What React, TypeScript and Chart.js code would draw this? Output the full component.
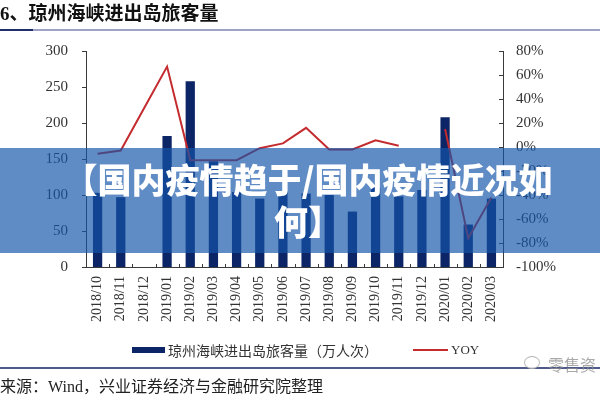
import React, { useEffect, useRef } from "react";
import { Chart, registerables } from "chart.js";

Chart.register(...registerables);

// 琼州海峡进出岛旅客量（万人次）与同比
const months = [
  "2018/10", "2018/11", "2018/12", "2019/01", "2019/02", "2019/03",
  "2019/04", "2019/05", "2019/06", "2019/07", "2019/08", "2019/09",
  "2019/10", "2019/11", "2019/12", "2020/01", "2020/02", "2020/03",
];
const passengers = [103, 97, null, 182, 258, 147, 104, 95, 105, 102, 100, 77, 110, 98, 107, 208, 59, 95];
const yoy = [-5.6, -3, 32, 67, -11, -11, -11, -1, 3, 16, -2, -2, 5.5, 1, null, 15, -76, -42];

const leftMin = 0;
const leftMax = 300;
const leftStep = 50;
const rightMin = -100;
const rightMax = 80;
const rightStep = 20;

const seriesNames = ["琼州海峡进出岛旅客量（万人次）", "YOY"];

const NAVY = "#0b2566";
const RED = "#c42b2e";
const AXIS = "#3a3a3a";
const TICK_FONT = "'Liberation Serif', 'Times New Roman', serif";

// small tick marks: outward on the left axis, inward on the right axis,
// and short upward marks at the category boundaries on the x axis
const tickMarks = {
  id: "tickMarks",
  afterDraw(chart: any) {
    const { ctx, chartArea: a, scales } = chart;
    ctx.save();
    ctx.strokeStyle = AXIS;
    ctx.lineWidth = 1;
    ctx.beginPath();
    scales.y.ticks.forEach((t: any) => {
      const py = Math.round(scales.y.getPixelForValue(t.value)) + 0.5;
      ctx.moveTo(a.left - 4, py);
      ctx.lineTo(a.left, py);
    });
    scales.y1.ticks.forEach((t: any) => {
      const py = Math.round(scales.y1.getPixelForValue(t.value)) + 0.5;
      ctx.moveTo(a.right - 4, py);
      ctx.lineTo(a.right, py);
    });
    for (let i = 0; i <= months.length; i++) {
      const px = Math.round(scales.x.getPixelForValue(i - 0.5)) + 0.5;
      ctx.moveTo(px, a.bottom - 3);
      ctx.lineTo(px, a.bottom);
    }
    ctx.stroke();
    ctx.restore();
  },
};

function PassengerChart() {
  const ref = useRef<HTMLCanvasElement | null>(null);

  useEffect(() => {
    if (!ref.current) return;
    const chart = new Chart(ref.current, {
      type: "bar",
      data: {
        labels: months,
        datasets: [
          {
            type: "line",
            label: seriesNames[1],
            data: yoy,
            yAxisID: "y1",
            borderColor: RED,
            backgroundColor: RED,
            borderWidth: 2,
            pointRadius: 0,
            tension: 0,
            spanGaps: false,
            order: 0,
          } as any,
          {
            type: "bar",
            label: seriesNames[0],
            data: passengers,
            yAxisID: "y",
            backgroundColor: NAVY,
            barPercentage: 0.4,
            categoryPercentage: 1,
            order: 1,
          },
        ],
      },
      options: {
        animation: false,
        responsive: false,
        devicePixelRatio: 1,
        layout: { padding: { top: 51, left: 0, right: 0, bottom: 0 } },
        plugins: {
          legend: { display: false },
          tooltip: { enabled: false },
        },
        scales: {
          x: {
            grid: { display: false, drawTicks: false },
            border: { display: true, color: AXIS, width: 1 },
            ticks: {
              minRotation: 90,
              maxRotation: 90,
              autoSkip: false,
              padding: 9,
              color: "#333",
              font: { family: TICK_FONT, size: 14 },
            },
            afterFit: (s: any) => {
              s.height = 133;
            },
          },
          y: {
            position: "left",
            min: leftMin,
            max: leftMax,
            grid: { display: false, drawTicks: false },
            border: { display: true, color: AXIS, width: 1 },
            ticks: {
              stepSize: leftStep,
              padding: 18,
              color: "#333",
              font: { family: TICK_FONT, size: 15 },
            },
            afterFit: (s: any) => {
              s.width = 86;
            },
          },
          y1: {
            position: "right",
            min: rightMin,
            max: rightMax,
            grid: { display: false, drawTicks: false },
            border: { display: true, color: AXIS, width: 1 },
            ticks: {
              stepSize: rightStep,
              padding: 13,
              color: "#333",
              font: { family: TICK_FONT, size: 15 },
              callback: (v: any) => `${v}%`,
            },
            afterFit: (s: any) => {
              s.width = 97;
            },
          },
        },
      },
      plugins: [tickMarks],
    });
    return () => chart.destroy();
  }, []);

  return (
    <canvas
      ref={ref}
      width={600}
      height={400}
      style={{ position: "absolute", left: 0, top: 0, width: 600, height: 400 }}
    />
  );
}

export default function App() {
  const cjk = "'Noto Sans CJK SC', 'Liberation Serif', sans-serif";
  return (
    <div
      style={{
        position: "fixed",
        left: 0,
        top: 0,
        width: 600,
        height: 400,
        background: "#fff",
        overflow: "hidden",
      }}
    >
      <PassengerChart />

      {/* heading */}
      <div
        style={{
          position: "absolute",
          left: 0,
          top: 0,
          height: 27,
          lineHeight: "27px",
          fontFamily: "'Liberation Serif', 'Noto Sans CJK SC', serif",
          fontWeight: 700,
          fontSize: 19,
          color: "#111",
          whiteSpace: "nowrap",
        }}
      >
        6、琼州海峡进出岛旅客量
      </div>
      <div style={{ position: "absolute", left: 0, top: 29, width: 600, height: 2, background: "#9ea3c4" }} />
      <div style={{ position: "absolute", left: 0, top: 29, width: 33, height: 2, background: "#1f2f6e" }} />

      {/* legend */}
      <div style={{ position: "absolute", left: 132, top: 347, width: 33, height: 6, background: NAVY }} />
      <div
        style={{
          position: "absolute",
          left: 168,
          top: 340,
          height: 20,
          lineHeight: "20px",
          fontFamily: cjk,
          fontSize: 14,
          color: "#333",
          whiteSpace: "nowrap",
        }}
      >
        {seriesNames[0]}
      </div>
      <div style={{ position: "absolute", left: 413, top: 349, width: 35, height: 2, background: RED }} />
      <div
        style={{
          position: "absolute",
          left: 451,
          top: 340,
          height: 20,
          lineHeight: "20px",
          fontFamily: TICK_FONT,
          fontSize: 13,
          color: "#333",
        }}
      >
        {seriesNames[1]}
      </div>

      {/* footer */}
      <div style={{ position: "absolute", left: 0, top: 367, width: 600, height: 2, background: "#4f5a8a" }} />
      <div
        style={{
          position: "absolute",
          left: 0,
          top: 377,
          height: 20,
          lineHeight: "20px",
          fontFamily: "'Liberation Serif', 'Noto Sans CJK SC', serif",
          fontSize: 16,
          color: "#222",
          whiteSpace: "nowrap",
        }}
      >
        来源：Wind，兴业证券经济与金融研究院整理
      </div>
      <div
        style={{
          position: "absolute",
          left: 524,
          top: 356,
          width: 14,
          height: 11,
          borderRadius: "50%",
          border: "1.5px solid rgba(150,150,150,0.7)",
          background: "rgba(255,255,255,0.8)",
        }}
      />
      <div
        style={{
          position: "absolute",
          left: 548,
          top: 354,
          height: 20,
          lineHeight: "20px",
          fontFamily: cjk,
          fontSize: 16,
          color: "rgba(140,140,140,0.75)",
          whiteSpace: "nowrap",
        }}
      >
        零售资
      </div>

      {/* banner */}
      <div
        style={{
          position: "absolute",
          left: 0,
          top: 148,
          width: 600,
          height: 105,
          boxSizing: "border-box",
          padding: "10px 42px 0 58px",
          background: "rgba(20,85,170,0.68)",
          color: "#fff",
          fontFamily: "'Noto Sans CJK SC', sans-serif",
          fontWeight: 900,
          fontSize: 34,
          lineHeight: "42px",
          textAlign: "center",
        }}
      >
        【国内疫情趋于/国内疫情近况如何】
      </div>
    </div>
  );
}
